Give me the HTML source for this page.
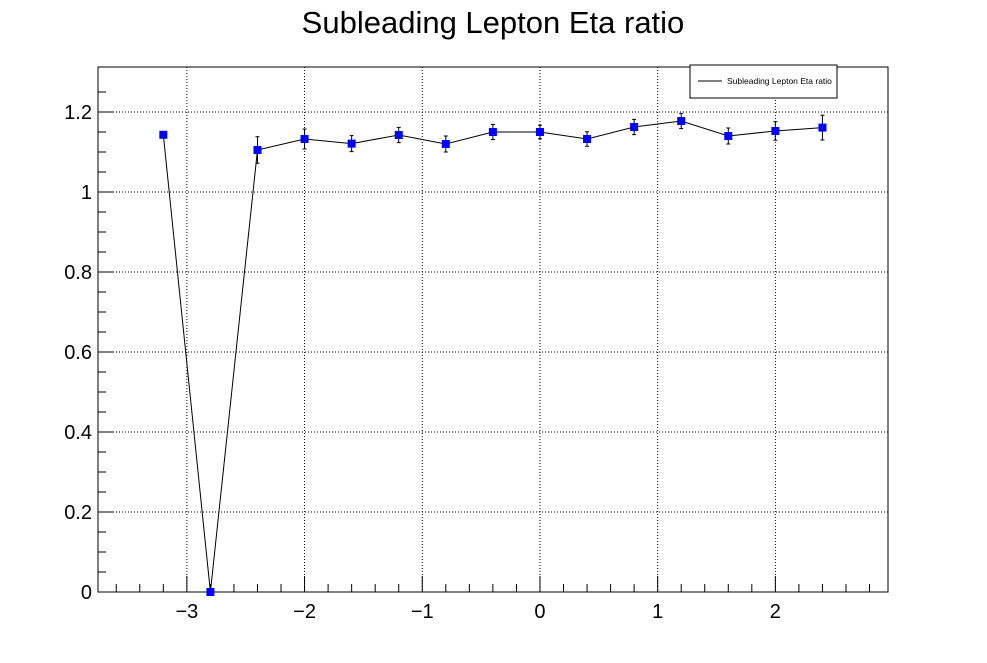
<!DOCTYPE html>
<html><head><meta charset="utf-8"><style>
body{margin:0;background:#fff;width:987px;height:658px;overflow:hidden;font-family:"Liberation Sans",sans-serif}
</style></head><body>
<svg id="c" width="987" height="658" xmlns="http://www.w3.org/2000/svg" font-family="Liberation Sans, sans-serif">
<text x="493" y="33" font-size="31" text-anchor="middle">Subleading Lepton Eta ratio</text>
<g id="grid"></g><g id="axes"></g><g id="series"></g>
<g>
<rect x="690" y="65" width="147" height="33" fill="#fff" stroke="#000"/>
<line x1="698" y1="81" x2="722" y2="81" stroke="#000"/>
<text x="727" y="84" font-size="8.5">Subleading Lepton Eta ratio</text>
</g>
</svg>
<script>
const xs=[-3.2,-2.8,-2.4,-2.0,-1.6,-1.2,-0.8,-0.4,0,0.4,0.8,1.2,1.6,2.0,2.4];
const ys=[1.143,0,1.105,1.1325,1.121,1.1425,1.12,1.15,1.15,1.1325,1.1625,1.1775,1.14,1.1525,1.161];
const errs=[0,0,0.033,0.025,0.02,0.019,0.02,0.019,0.017,0.018,0.019,0.019,0.02,0.023,0.031];
const xTicks=[-3,-2,-1,0,1,2];
const xTickLabels=["\u22123","\u22122","\u22121","0","1","2"];
const yTicks=[0,0.2,0.4,0.6,0.8,1,1.2];
const yTickLabels=["0","0.2","0.4","0.6","0.8","1","1.2"];
const L=98,R=888,T=67,B=592,xmin=-3.755,xmax=2.957,ymin=0,ymax=1.3125;
const X=v=>L+(v-xmin)/(xmax-xmin)*(R-L), Y=v=>B-(v-ymin)/(ymax-ymin)*(B-T);
const NS="http://www.w3.org/2000/svg";
function mk(p,t,a){const e=document.createElementNS(NS,t);for(const k in a)e.setAttribute(k,a[k]);p.appendChild(e);return e;}
const g=document.getElementById('grid'),ax=document.getElementById('axes'),s=document.getElementById('series');
xTicks.forEach((v,i)=>{const l=mk(g,'line',{x1:X(v),x2:X(v),y1:T,y2:B,stroke:'#000','stroke-dasharray':'1,2'});

const t=mk(ax,'text',{x:X(v),y:B+26,'font-size':20,'text-anchor':'middle'});t.textContent=xTickLabels[i];
});
yTicks.forEach((v,i)=>{const l=mk(g,'line',{x1:L,x2:R,y1:Y(v),y2:Y(v),stroke:'#000','stroke-dasharray':'1,2'});

const t=mk(ax,'text',{x:L-6,y:Y(v)+7,'font-size':20,'text-anchor':'end'});t.textContent=yTickLabels[i];
});
const fr=mk(ax,'rect',{x:L,y:T,width:R-L,height:B-T,fill:'none',stroke:'#000'});

for(let v=-3.6;v<=2.95;v+=0.2){const r=Math.round(v*10)/10;const big=Math.abs(r-Math.round(r))<1e-6;
mk(ax,'line',{x1:X(r),x2:X(r),y1:B,y2:B-(big?16:8),stroke:'#000'});}
for(let v=0;v<=1.3;v+=0.05){const r=Math.round(v*100)/100;const big=Math.abs(r*5-Math.round(r*5))<1e-6;
mk(ax,'line',{x1:L,x2:L+(big?16:8),y1:Y(r),y2:Y(r),stroke:'#000'});}
const pl=mk(s,'polyline',{points:xs.map((x,i)=>X(x)+','+Y(ys[i])).join(' '),fill:'none',stroke:'#000'});

xs.forEach((x,i)=>{if(errs[i]>0){const e=mk(s,'path',{d:`M${X(x)},${Y(ys[i]+errs[i])}V${Y(ys[i]-errs[i])}M${X(x)-2},${Y(ys[i]+errs[i])}h4M${X(x)-2},${Y(ys[i]-errs[i])}h4`,stroke:'#000',fill:'none'});
}
const m=mk(s,'rect',{x:X(x)-4,y:Y(ys[i])-4,width:8,height:8,fill:'#0000ff'});
});
</script>
</body></html>
